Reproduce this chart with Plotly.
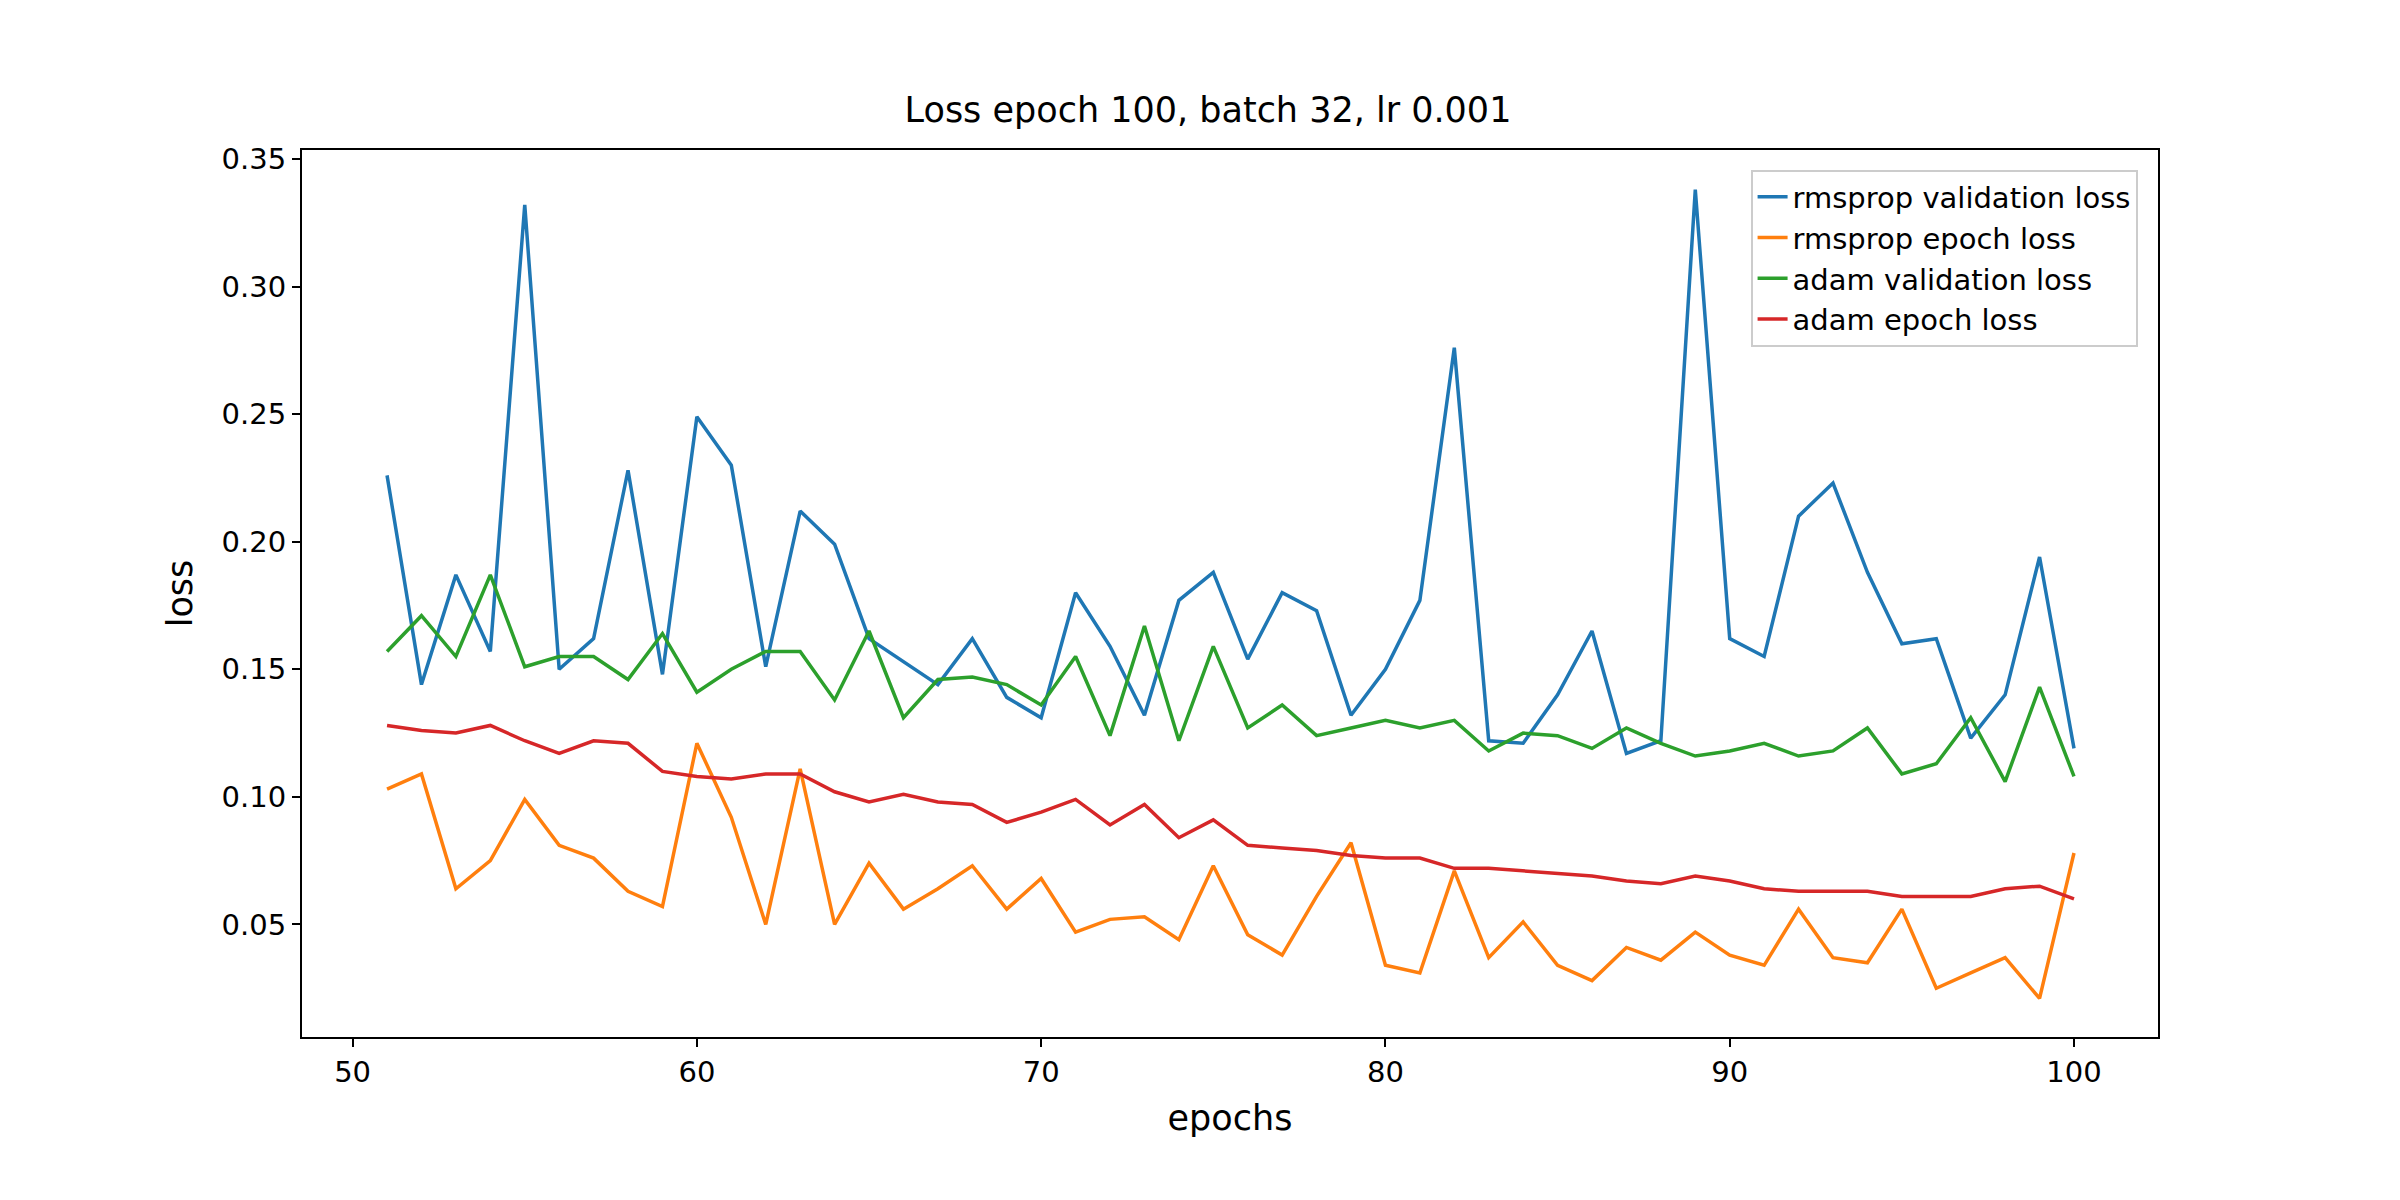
import plotly.graph_objects as go

epochs = list(range(51, 101))
rms_val = [0.226, 0.144, 0.187, 0.157, 0.332, 0.150, 0.162, 0.228, 0.148, 0.249,
           0.230, 0.151, 0.212, 0.199, 0.162, 0.153, 0.144, 0.162, 0.139, 0.131,
           0.180, 0.159, 0.132, 0.177, 0.188, 0.154, 0.180, 0.173, 0.132, 0.150,
           0.177, 0.276, 0.122, 0.121, 0.140, 0.165, 0.117, 0.122, 0.338, 0.162,
           0.155, 0.210, 0.223, 0.188, 0.160, 0.162, 0.123, 0.140, 0.194, 0.119]
rms_epoch = [0.103, 0.109, 0.064, 0.075, 0.099, 0.081, 0.076, 0.063, 0.057, 0.121,
             0.092, 0.050, 0.111, 0.050, 0.074, 0.056, 0.064, 0.073, 0.056, 0.068,
             0.047, 0.052, 0.053, 0.044, 0.073, 0.046, 0.038, 0.061, 0.082, 0.034,
             0.031, 0.071, 0.037, 0.051, 0.034, 0.028, 0.041, 0.036, 0.047, 0.038,
             0.034, 0.056, 0.037, 0.035, 0.056, 0.025, 0.031, 0.037, 0.021, 0.078]
adam_val = [0.157, 0.171, 0.155, 0.187, 0.151, 0.155, 0.155, 0.146, 0.164, 0.141,
            0.150, 0.157, 0.157, 0.138, 0.165, 0.131, 0.146, 0.147, 0.144, 0.136,
            0.155, 0.124, 0.167, 0.122, 0.159, 0.127, 0.136, 0.124, 0.127, 0.130,
            0.127, 0.130, 0.118, 0.125, 0.124, 0.119, 0.127, 0.121, 0.116, 0.118,
            0.121, 0.116, 0.118, 0.127, 0.109, 0.113, 0.131, 0.106, 0.143, 0.108]
adam_epoch = [0.128, 0.126, 0.125, 0.128, 0.122, 0.117, 0.122, 0.121, 0.110, 0.108,
              0.107, 0.109, 0.109, 0.102, 0.098, 0.101, 0.098, 0.097, 0.090, 0.094,
              0.099, 0.089, 0.097, 0.084, 0.091, 0.081, 0.080, 0.079, 0.077, 0.076,
              0.076, 0.072, 0.072, 0.071, 0.070, 0.069, 0.067, 0.066, 0.069, 0.067,
              0.064, 0.063, 0.063, 0.063, 0.061, 0.061, 0.061, 0.064, 0.065, 0.060]

series = [
    ("rmsprop validation loss", rms_val, "#1f77b4"),
    ("rmsprop epoch loss", rms_epoch, "#ff7f0e"),
    ("adam validation loss", adam_val, "#2ca02c"),
    ("adam epoch loss", adam_epoch, "#d62728"),
]

fig = go.Figure()
for name, vals, col in series:
    fig.add_trace(go.Scatter(x=epochs, y=vals, mode="lines", name=name,
                             line=dict(color=col, width=3.5)))

axis_common = dict(showgrid=False, zeroline=False, showline=True, mirror=True,
                   linecolor="black", linewidth=2, ticks="outside", ticklen=8,
                   tickwidth=2, tickcolor="black")
fig.update_xaxes(range=[48.53, 102.44], tickvals=[50, 60, 70, 80, 90, 100],
                 title=dict(text="epochs", standoff=18), **axis_common)
fig.update_yaxes(range=[0.0059, 0.3535],
                 tickvals=[0.05, 0.10, 0.15, 0.20, 0.25, 0.30, 0.35],
                 ticktext=["0.05", "0.10", "0.15", "0.20", "0.25", "0.30", "0.35"],
                 title=dict(text="loss", standoff=18), **axis_common)

fig.update_layout(
    width=2400, height=1200,
    margin=dict(l=294, r=250, t=142, b=171),
    paper_bgcolor="white", plot_bgcolor="white",
    font=dict(family="DejaVu Sans", size=29, color="black"),
    title=dict(text="Loss epoch 100, batch 32, lr 0.001", x=0.5, xanchor="center",
               y=0.915, yanchor="middle", font=dict(size=35)),
    legend=dict(x=0.989, y=0.978, xanchor="right", yanchor="top",
                bgcolor="rgba(255,255,255,0.8)", bordercolor="#cccccc", borderwidth=2,
                font=dict(size=29)),
)

fig.write_html("out.html")
